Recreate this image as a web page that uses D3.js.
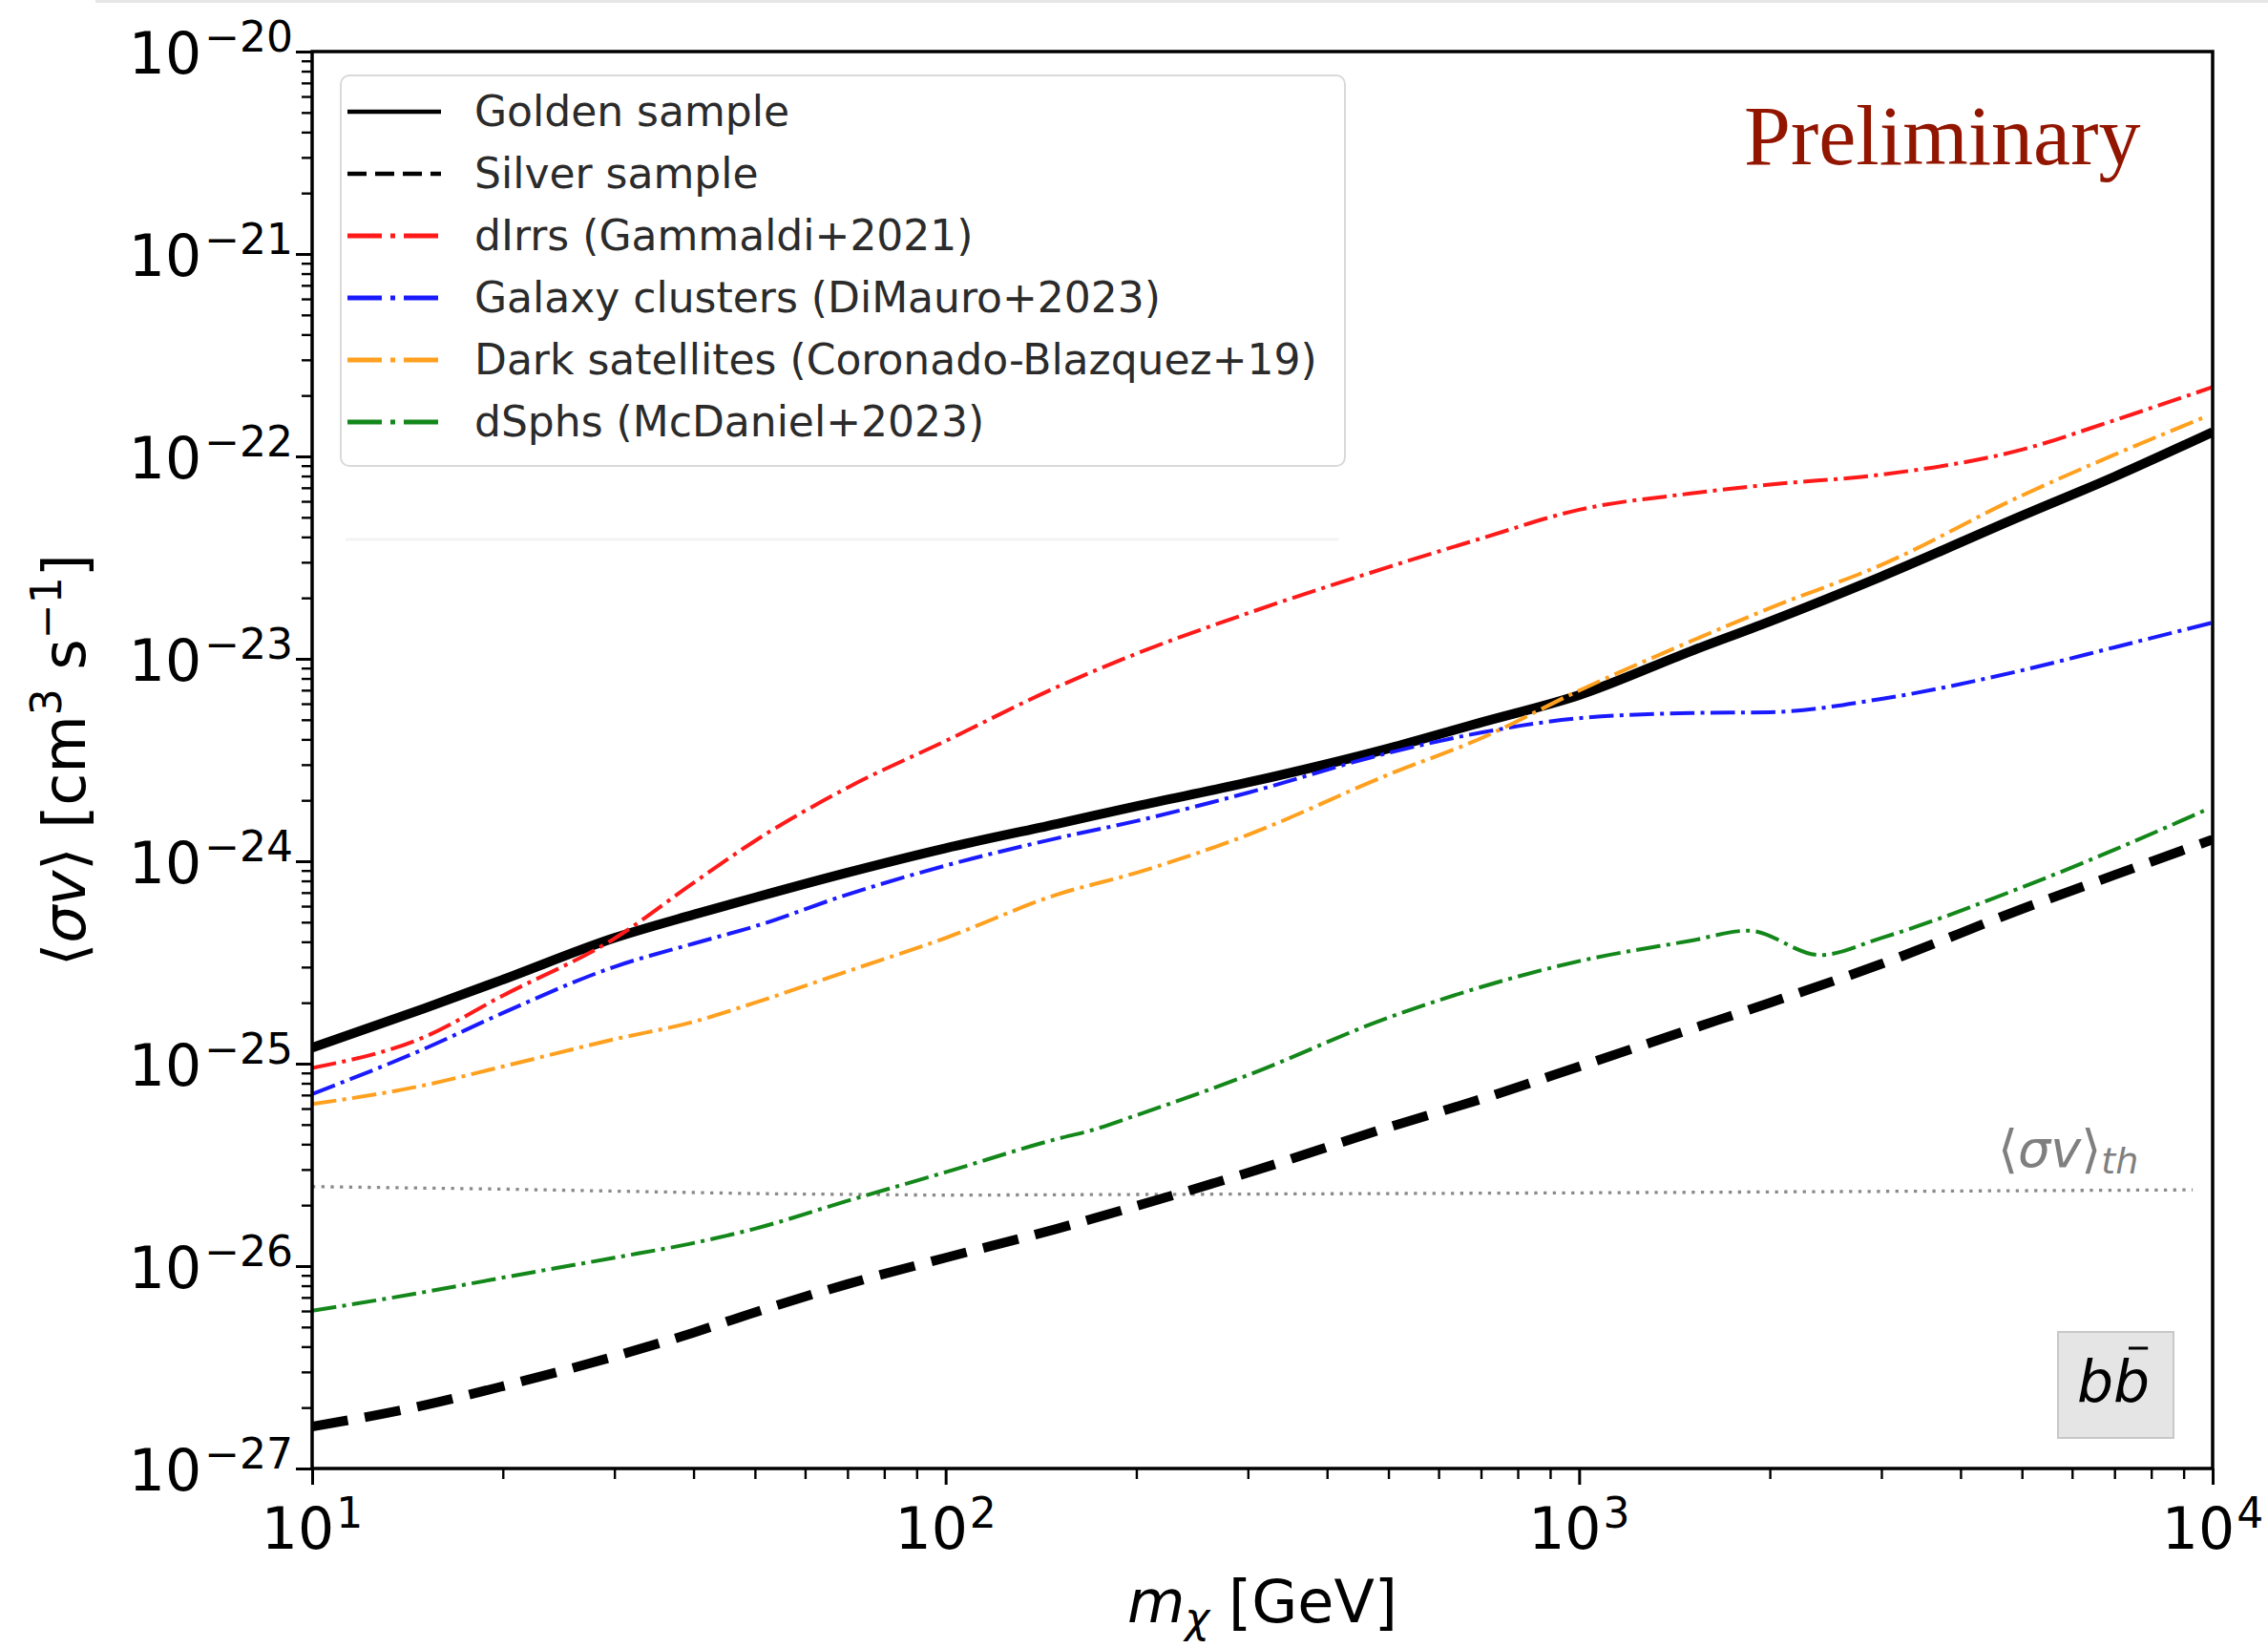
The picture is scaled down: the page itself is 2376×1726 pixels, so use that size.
<!DOCTYPE html>
<html><head><meta charset="utf-8">
<script src="https://cdn.jsdelivr.net/npm/d3@7"></script>
<style>body{margin:0;background:#fff}svg{display:block}</style>
</head><body>
<svg id="chart" width="2376" height="1726"></svg>
<script>
// ---------------- data ----------------
const masses = [10,15,20,30,40,50,70,100,150,200,300,500,700,1000,1500,2000,3000,5000,7000,10000];
const golden = [1.20e-25,1.87e-25,2.60e-25,4.18e-25,5.45e-25,6.62e-25,8.79e-25,1.16e-24,1.53e-24,1.87e-24,2.45e-24,3.61e-24,4.85e-24,6.62e-24,1.09e-23,1.53e-23,2.55e-23,5.09e-23,7.94e-23,1.32e-22];
const silver = [1.61e-27,2.05e-27,2.55e-27,3.58e-27,4.69e-27,5.91e-27,8.15e-27,1.10e-26,1.53e-26,1.98e-26,2.89e-26,4.85e-26,6.68e-26,9.68e-26,1.48e-25,2.00e-25,3.11e-25,5.81e-25,8.55e-25,1.28e-24];
const dirrs = [9.52e-26,1.35e-25,2.17e-25,4.15e-25,7.82e-25,1.26e-24,2.31e-24,3.93e-24,7.26e-24,1.06e-23,1.68e-23,2.84e-23,3.93e-23,5.45e-23,6.56e-23,7.26e-23,8.13e-23,1.08e-22,1.51e-22,2.20e-22];
const clusters = [7.08e-26,1.18e-25,1.78e-25,3.01e-25,3.92e-25,4.77e-25,6.85e-25,9.52e-25,1.30e-24,1.58e-24,2.18e-24,3.43e-24,4.32e-24,5.09e-24,5.40e-24,5.45e-24,6.34e-24,8.77e-24,1.14e-23,1.51e-23];
const darkSatMass = [10,15,20,30,40,50,70,100,150,200,300,500,700,1000,1500,2000,3000,5000,7000,9700];
const darkSat = [6.31e-26,7.81e-26,9.68e-26,1.32e-25,1.61e-25,2.00e-25,2.86e-25,4.18e-25,6.85e-25,8.77e-25,1.35e-24,2.68e-24,4.05e-24,6.97e-24,1.22e-23,1.78e-23,2.91e-23,6.41e-23,1.02e-22,1.56e-22];
const dsphMass = [10,15,20,30,40,50,70,100,150,170,200,300,500,700,1000,1500,1850,2400,3000,5000,7000,9700];
const dsph = [6.01e-27,7.43e-27,8.77e-27,1.10e-26,1.30e-26,1.53e-26,2.10e-26,2.91e-26,4.25e-26,4.69e-26,5.56e-26,8.77e-26,1.69e-25,2.39e-25,3.21e-25,4.05e-25,4.54e-25,3.44e-25,4.18e-25,7.43e-25,1.14e-24,1.78e-24];
const thMass = [10,20,50,100,1000,9300];
const thermal = [2.47e-26,2.40e-26,2.28e-26,2.24e-26,2.30e-26,2.38e-26];

const legendLabels = ["Golden sample","Silver sample","dIrrs (Gammaldi+2021)","Galaxy clusters (DiMauro+2023)","Dark satellites (Coronado-Blazquez+19)","dSphs (McDaniel+2023)"];
const xTickExponents = [1,2,3,4];
const yTickExponents = [-27,-26,-25,-24,-23,-22,-21,-20];
const minorMultipliers = [2,3,4,5,6,7,8,9];

// ---------------- layout ----------------
const M = {left:327, right:2318, top:54, bottom:1538};
const FONT = "'DejaVu Sans', sans-serif";
const svg = d3.select('#chart').attr('font-family', FONT);

// faint screenshot edge at the top
svg.append('rect').attr('x',100).attr('y',0).attr('width',2276).attr('height',3).attr('fill','#e6e6e6');

const x = d3.scaleLog().domain([10,1e4]).range([M.left, M.right]);
const y = d3.scaleLog().domain([1e-27,1e-20]).range([M.bottom, M.top]);

svg.append('clipPath').attr('id','plotclip').append('rect')
  .attr('x',M.left).attr('y',M.top).attr('width',M.right-M.left).attr('height',M.bottom-M.top);

const line = d3.line().x(d=>x(d[0])).y(d=>y(d[1])).curve(d3.curveMonotoneX);
const zip = (ms, vs) => ms.map((m,i)=>[m, vs[i]]);

const series = [
  {label:legendLabels[0], data:zip(masses,golden),  color:'#000000', w:10, dash:null,  lw:4.5, ldash:null},
  {label:legendLabels[1], data:zip(masses,silver),  color:'#000000', w:10, dash:'38,18', lw:4.5, ldash:'20,9'},
  {label:legendLabels[2], data:zip(masses,dirrs),   color:'#ff1a1a', w:4,  dash:'25.6,6.4,4,6.4', lw:5, ldash:'36,9,5,9'},
  {label:legendLabels[3], data:zip(masses,clusters),color:'#1a1aff', w:4,  dash:'25.6,6.4,4,6.4', lw:5, ldash:'36,9,5,9'},
  {label:legendLabels[4], data:zip(darkSatMass,darkSat), color:'#ffa01e', w:4, dash:'25.6,6.4,4,6.4', lw:5, ldash:'36,9,5,9'},
  {label:legendLabels[5], data:zip(dsphMass,dsph),  color:'#14871a', w:4,  dash:'25.6,6.4,4,6.4', lw:5, ldash:'36,9,5,9'}
];

const plot = svg.append('g').attr('clip-path','url(#plotclip)');

// thermal relic line
plot.append('path').datum(zip(thMass, thermal))
  .attr('d', d3.line().x(d=>x(d[0])).y(d=>y(d[1])))
  .attr('fill','none').attr('stroke','#8a8a8a').attr('stroke-width',3.3)
  .attr('stroke-dasharray','3.3,6.4');

series.forEach(s => {
  plot.append('path').datum(s.data).attr('d', line)
    .attr('fill','none').attr('stroke', s.color).attr('stroke-width', s.w)
    .attr('stroke-dasharray', s.dash).attr('stroke-linejoin','round');
});

// ---------------- axes ----------------
const yMajor = yTickExponents.map(e => Math.pow(10, e));
const yMinor = [];
yTickExponents.slice(0,-1).forEach(e => minorMultipliers.forEach(m => yMinor.push(m*Math.pow(10,e))));
const xMajor = xTickExponents.map(e => Math.pow(10, e));
const xMinor = [];
xTickExponents.slice(0,-1).forEach(e => minorMultipliers.forEach(m => xMinor.push(m*Math.pow(10,e))));

function styleAxis(g, w){
  g.select('.domain').remove();
  g.selectAll('.tick line').attr('stroke','#000').attr('stroke-width', w);
  g.selectAll('.tick text').remove();
}
svg.append('g').attr('transform',`translate(${M.left},0)`)
  .call(d3.axisLeft(y).tickValues(yMinor).tickSize(11).tickFormat('')).call(g=>styleAxis(g,2.4));
svg.append('g').attr('transform',`translate(${M.left},0)`)
  .call(d3.axisLeft(y).tickValues(yMajor).tickSize(17).tickFormat('')).call(g=>styleAxis(g,3));
svg.append('g').attr('transform',`translate(0,${M.bottom})`)
  .call(d3.axisBottom(x).tickValues(xMinor).tickSize(11).tickFormat('')).call(g=>styleAxis(g,2.4));
svg.append('g').attr('transform',`translate(0,${M.bottom})`)
  .call(d3.axisBottom(x).tickValues(xMajor).tickSize(17).tickFormat('')).call(g=>styleAxis(g,3));

// spines
svg.append('rect').attr('x',M.left).attr('y',M.top).attr('width',M.right-M.left).attr('height',M.bottom-M.top)
  .attr('fill','none').attr('stroke','#000').attr('stroke-width',3.5);

const minus = '\u2212';
// y tick labels
yTickExponents.forEach(e => {
  const t = svg.append('text').attr('x',307).attr('y', y(Math.pow(10,e)) + 23)
    .attr('text-anchor','end').attr('font-size',60).attr('fill','#000');
  t.append('tspan').text('10');
  t.append('tspan').attr('dy',-23).attr('dx',3).attr('font-size',44).text((e<0?minus:'') + Math.abs(e));
});
// x tick labels
xTickExponents.forEach(e => {
  const t = svg.append('text').attr('x', x(Math.pow(10,e))).attr('y', 1622)
    .attr('text-anchor','middle').attr('font-size',60).attr('fill','#000');
  t.append('tspan').text('10');
  t.append('tspan').attr('dy',-22).attr('dx',2).attr('font-size',44).text(String(e));
});

// axis titles
const xl = svg.append('text').attr('x',(M.left+M.right)/2).attr('y',1699).attr('text-anchor','middle').attr('font-size',62);
xl.append('tspan').attr('font-style','italic').text('m');
xl.append('tspan').attr('font-style','italic').attr('font-size',44).attr('dy',11).text('\u03c7');
xl.append('tspan').attr('dy',-11).text(' [GeV]');

const yl = svg.append('text').attr('transform',`translate(89,${(M.top+M.bottom)/2}) rotate(-90)`)
  .attr('text-anchor','middle').attr('font-size',62);
yl.append('tspan').text('\u27e8');
yl.append('tspan').attr('font-style','italic').text('\u03c3v');
yl.append('tspan').text('\u27e9 [cm');
yl.append('tspan').attr('font-size',44).attr('dy',-25).text('3');
yl.append('tspan').attr('dy',25).text(' s');
yl.append('tspan').attr('font-size',44).attr('dy',-25).text(minus+'1');
yl.append('tspan').attr('dy',25).text(']');

// thermal label
const thl = svg.append('text').attr('x',2093).attr('y',1222).attr('font-size',54).attr('fill','#7f7f7f');
thl.append('tspan').text('\u27e8');
thl.append('tspan').attr('font-style','italic').text('\u03c3v');
thl.append('tspan').text('\u27e9');
thl.append('tspan').attr('font-style','italic').attr('font-size',38).attr('dy',7).text('th');

// b bbar box
svg.append('rect').attr('x',2156).attr('y',1395).attr('width',121).attr('height',111)
  .attr('fill','#e5e5e5').attr('stroke','#c8c8c8').attr('stroke-width',2);
const bb = svg.append('text').attr('x',2214).attr('y',1468).attr('text-anchor','middle')
  .attr('font-size',60).attr('font-style','italic').attr('fill','#000').text('bb');
{
  const node = bb.node();
  const total = node.getComputedTextLength();
  const first = node.getSubStringLength(0,1);
  const x0 = 2214 - total/2 + first;
  svg.append('line').attr('x1', x0 + 0.42*first).attr('x2', x0 + 0.95*first)
    .attr('y1',1412).attr('y2',1412).attr('stroke','#000').attr('stroke-width',3);
}

// Preliminary
svg.append('text').attr('x',1827).attr('y',172).attr('font-family',"'Liberation Serif', serif")
  .attr('font-size',88).attr('fill','#921500').text('Preliminary');

// ---------------- legend ----------------
svg.append('line').attr('x1',362).attr('x2',1402).attr('y1',565).attr('y2',565)
  .attr('stroke','#f3f3f3').attr('stroke-width',3);
const lg = svg.append('g');
lg.append('rect').attr('x',357).attr('y',79).attr('width',1052).attr('height',409).attr('rx',9)
  .attr('fill','#fff').attr('fill-opacity',0.85).attr('stroke','#d9d9d9').attr('stroke-width',2);
series.forEach((s,i) => {
  const cy = 117 + i*65;
  lg.append('line').attr('x1',364).attr('x2',462).attr('y1',cy).attr('y2',cy)
    .attr('stroke',s.color).attr('stroke-width',s.lw).attr('stroke-dasharray',s.ldash);
  lg.append('text').attr('x',497).attr('y',cy+15).attr('font-size',44).attr('fill','#2b2b2b').text(s.label);
});
</script>
</body></html>
